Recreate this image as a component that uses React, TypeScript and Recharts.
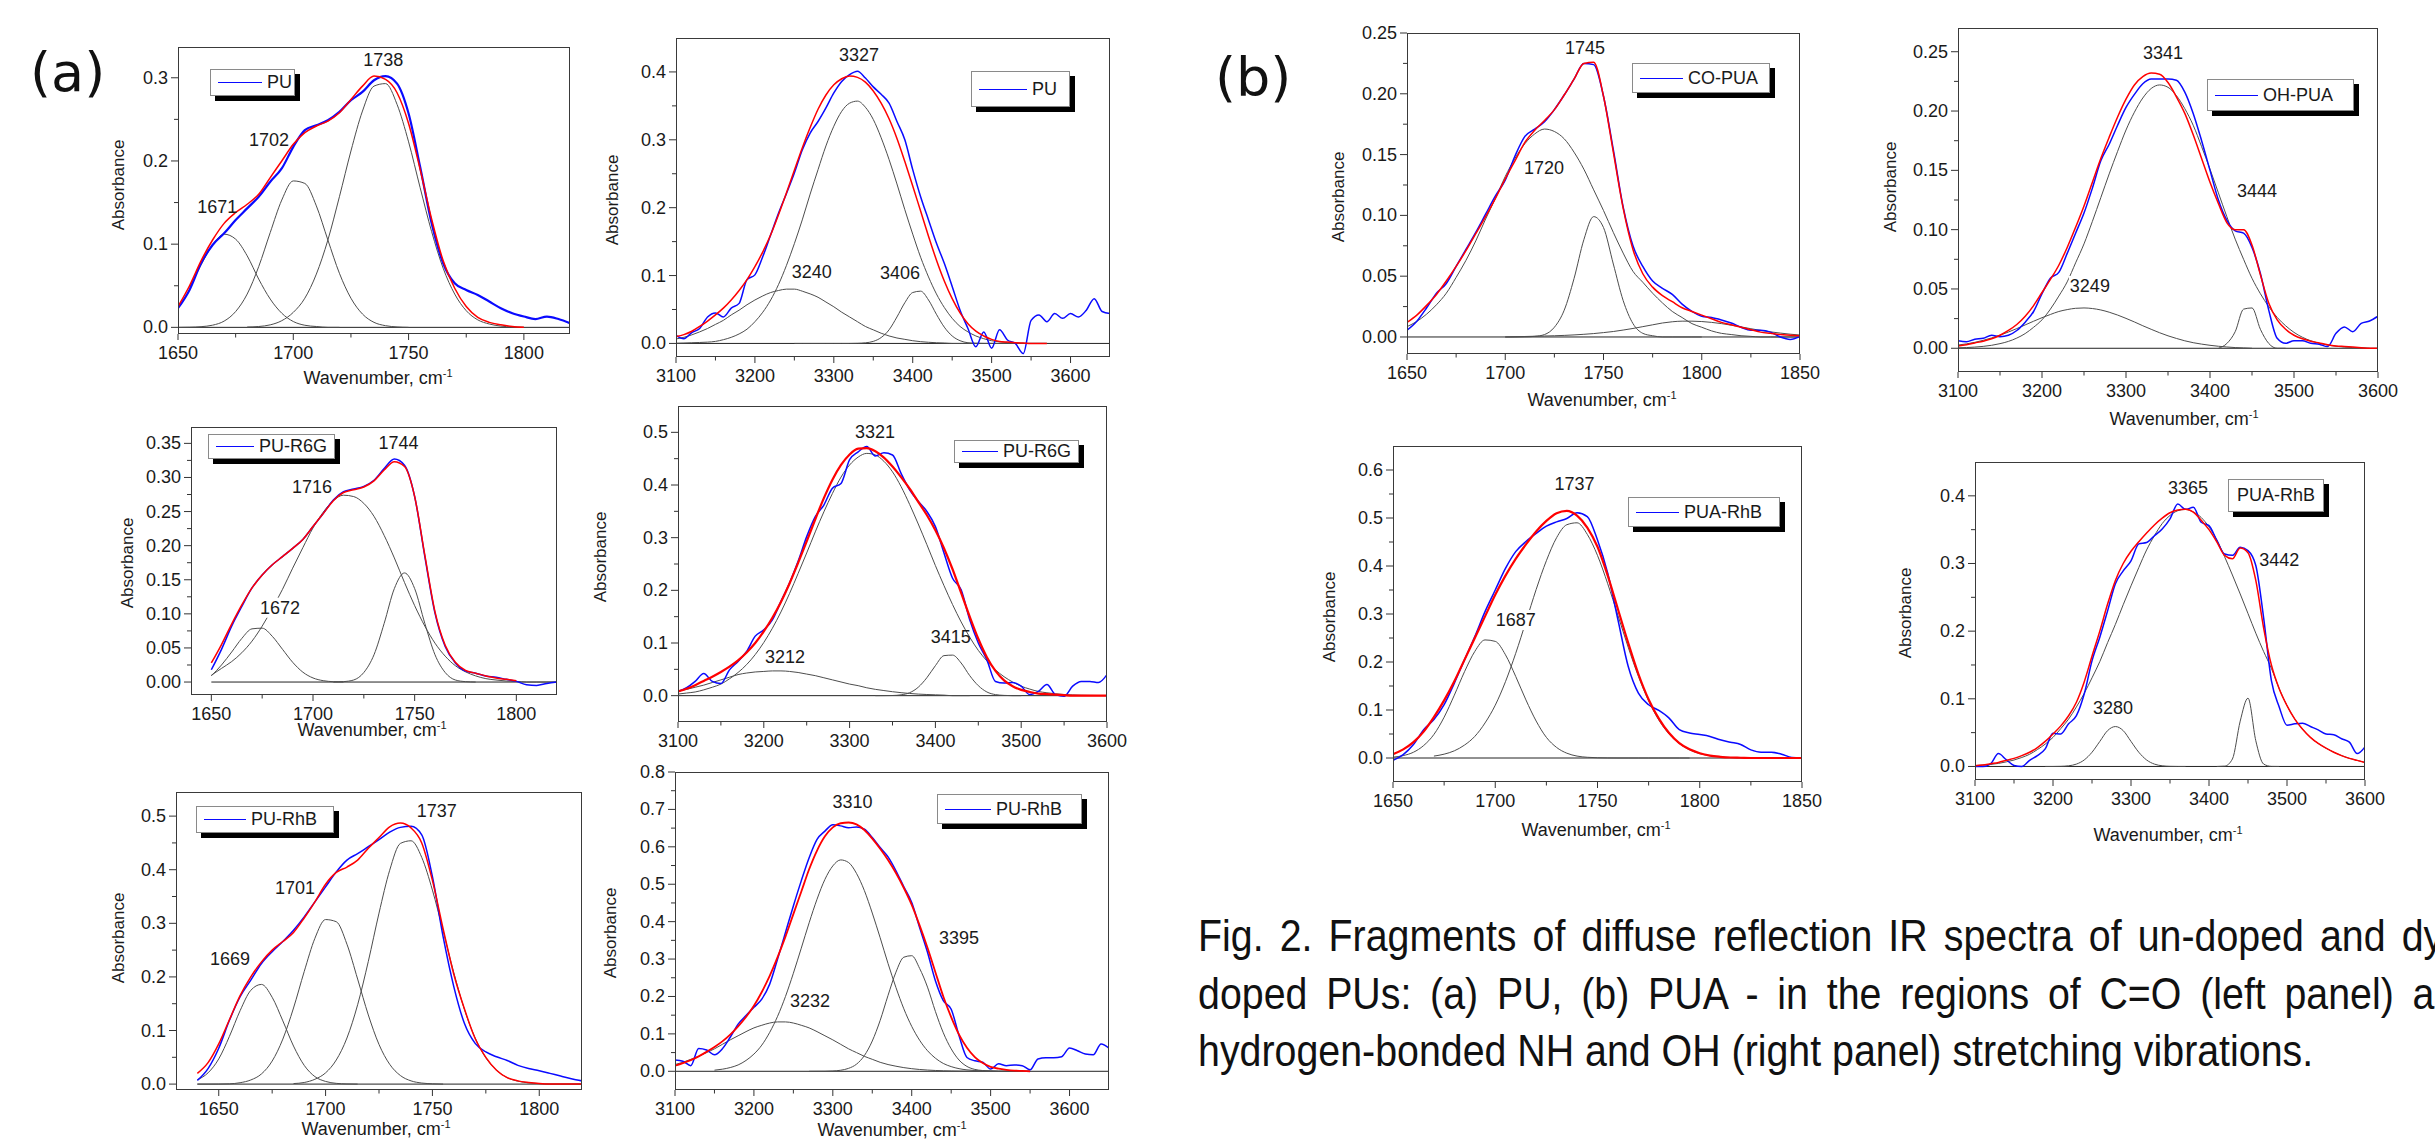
import React from "react";
import { LineChart, Line, XAxis, YAxis, ReferenceLine, ReferenceDot } from "recharts";

const _ = null;

// wavenumber grids, cm-1
const coX1 = [1650, 1655, 1660, 1665, 1670, 1675, 1680, 1685, 1690, 1695, 1700, 1705, 1710, 1715, 1720, 1725, 1730, 1735, 1740, 1745, 1750, 1755, 1760, 1765, 1770, 1775, 1780, 1785, 1790, 1795, 1800, 1805, 1810, 1815, 1820];
const coX2 = [1640, 1645, 1650, 1655, 1660, 1665, 1670, 1675, 1680, 1685, 1690, 1695, 1700, 1705, 1710, 1715, 1720, 1725, 1730, 1735, 1740, 1745, 1750, 1755, 1760, 1765, 1770, 1775, 1780, 1785, 1790, 1795, 1800, 1805, 1810, 1815, 1820];
const coX3 = [1650, 1655, 1660, 1665, 1670, 1675, 1680, 1685, 1690, 1695, 1700, 1705, 1710, 1715, 1720, 1725, 1730, 1735, 1740, 1745, 1750, 1755, 1760, 1765, 1770, 1775, 1780, 1785, 1790, 1795, 1800, 1805, 1810, 1815, 1820, 1825, 1830, 1835, 1840, 1845, 1850];
const nhX1 = [3100, 3110, 3120, 3130, 3140, 3150, 3160, 3170, 3180, 3190, 3200, 3210, 3220, 3230, 3240, 3250, 3260, 3270, 3280, 3290, 3300, 3310, 3320, 3330, 3340, 3350, 3360, 3370, 3380, 3390, 3400, 3410, 3420, 3430, 3440, 3450, 3460, 3470, 3480, 3490, 3500, 3510, 3520, 3530, 3540, 3550, 3560, 3570, 3580, 3590, 3600, 3610, 3620, 3630, 3640, 3650];
const nhX2 = [3100, 3110, 3120, 3130, 3140, 3150, 3160, 3170, 3180, 3190, 3200, 3210, 3220, 3230, 3240, 3250, 3260, 3270, 3280, 3290, 3300, 3310, 3320, 3330, 3340, 3350, 3360, 3370, 3380, 3390, 3400, 3410, 3420, 3430, 3440, 3450, 3460, 3470, 3480, 3490, 3500, 3510, 3520, 3530, 3540, 3550, 3560, 3570, 3580, 3590, 3600];

// tick labels
const coTicks = [1650, 1700, 1750, 1800];
const coMinor = [1675, 1725, 1775];
const coTicksWide = [1650, 1700, 1750, 1800, 1850];
const coMinorWide = [1675, 1725, 1775, 1825];
const nhTicks = [3100, 3200, 3300, 3400, 3500, 3600];
const nhMinor = [3150, 3250, 3350, 3450, 3550];
const yT03 = [0, 0.1, 0.2, 0.3];
const yM03 = [0.05, 0.15, 0.25];
const yT04 = [0, 0.1, 0.2, 0.3, 0.4];
const yM04 = [0.05, 0.15, 0.25, 0.35];
const yT05 = [0, 0.1, 0.2, 0.3, 0.4, 0.5];
const yM05 = [0.05, 0.15, 0.25, 0.35, 0.45];
const yT06 = [0, 0.1, 0.2, 0.3, 0.4, 0.5, 0.6];
const yM06 = [0.05, 0.15, 0.25, 0.35, 0.45, 0.55];
const yT08 = [0, 0.1, 0.2, 0.3, 0.4, 0.5, 0.6, 0.7, 0.8];
const yM08 = [0.05, 0.15, 0.25, 0.35, 0.45, 0.55, 0.65, 0.75];
const yT035 = [0, 0.05, 0.1, 0.15, 0.2, 0.25, 0.3, 0.35];
const yM035 = [0.025, 0.075, 0.125, 0.175, 0.225, 0.275, 0.325];
const yT025 = [0, 0.05, 0.1, 0.15, 0.2, 0.25];
const yM025 = [0.025, 0.075, 0.125, 0.175, 0.225];

// (a) PU, C=O
const puCoExp = [0.023, 0.045, 0.077, 0.099, 0.113, 0.129, 0.143, 0.157, 0.175, 0.191, 0.217, 0.237, 0.243, 0.249, 0.259, 0.273, 0.283, 0.297, 0.302, 0.293, 0.257, 0.193, 0.125, 0.077, 0.053, 0.045, 0.039, 0.031, 0.023, 0.017, 0.013, 0.010, 0.013, 0.010, 0.005];
const puCoFit = [0.025, 0.05, 0.08, 0.105, 0.125, 0.138, 0.148, 0.16, 0.18, 0.2, 0.22, 0.234, 0.242, 0.248, 0.258, 0.274, 0.29, 0.302, 0.298, 0.282, 0.245, 0.19, 0.13, 0.08, 0.047, 0.025, 0.012, 0.006, 0.003, 0.001, 0];
const puCoG1671 = [_, 0.048, 0.075, 0.099, 0.112, 0.106, 0.086, 0.058, 0.034, 0.017, 0.007, 0.0025, 0.001, 0, 0];
const puCoG1702 = [0, 0.0002, 0.0008, 0.0026, 0.0075, 0.019, 0.040, 0.073, 0.114, 0.153, 0.176, 0.173, 0.146, 0.105, 0.065, 0.035, 0.016, 0.006, 0.002, 0.0005, 0];
const puCoG1738 = [_, _, _, _, _, _, 0.0004, 0.001, 0.003, 0.008, 0.018, 0.035, 0.064, 0.105, 0.157, 0.212, 0.26, 0.29, 0.293, 0.268, 0.223, 0.168, 0.115, 0.071, 0.040, 0.020, 0.009, 0.004, 0.0015, 0.0005, 0];
const puCoPeaks = [{ x: 1739, y: 0.321, t: "1738" }, { x: 1689.5, y: 0.225, t: "1702" }, { x: 1667, y: 0.145, t: "1671" }];

// (a) PU, NH
const puNhExp = [0.012, 0.007, 0.016, 0.022, 0.039, 0.045, 0.039, 0.052, 0.059, 0.094, 0.101, 0.128, 0.160, 0.192, 0.221, 0.251, 0.285, 0.310, 0.327, 0.347, 0.369, 0.386, 0.396, 0.401, 0.391, 0.378, 0.367, 0.354, 0.327, 0.300, 0.256, 0.216, 0.182, 0.148, 0.118, 0.084, 0.049, 0.022, -0.005, 0.017, -0.007, 0.020, 0.005, 0.0, -0.015, 0.034, 0.042, 0.032, 0.044, 0.037, 0.044, 0.039, 0.049, 0.066, 0.047, 0.044];
const puNhFit = [0.01, 0.013, 0.018, 0.025, 0.033, 0.042, 0.052, 0.064, 0.078, 0.094, 0.113, 0.135, 0.16, 0.19, 0.222, 0.255, 0.288, 0.318, 0.345, 0.366, 0.381, 0.39, 0.394, 0.392, 0.385, 0.372, 0.354, 0.331, 0.302, 0.268, 0.232, 0.195, 0.158, 0.123, 0.092, 0.066, 0.045, 0.029, 0.018, 0.011, 0.006, 0.003, 0.002, 0.001, 0.0005, 0, 0, 0];
const puNhG3240 = [0.0066, 0.009, 0.0126, 0.017, 0.022, 0.028, 0.034, 0.042, 0.049, 0.057, 0.064, 0.070, 0.075, 0.078, 0.080, 0.080, 0.077, 0.073, 0.068, 0.061, 0.054, 0.046, 0.039, 0.032, 0.025, 0.020, 0.015, 0.011, 0.008, 0.006, 0.004, 0.0026, 0.0017, 0.001, 0.0006, 0, 0, 0, 0, 0, 0, 0, 0, 0, 0, 0, 0, 0];
const puNhG3327 = [0.0003, 0.0006, 0.001, 0.0014, 0.0019, 0.003, 0.0055, 0.009, 0.014, 0.021, 0.032, 0.046, 0.064, 0.087, 0.115, 0.147, 0.182, 0.220, 0.256, 0.291, 0.320, 0.342, 0.354, 0.357, 0.348, 0.330, 0.303, 0.271, 0.235, 0.197, 0.161, 0.127, 0.098, 0.073, 0.053, 0.037, 0.025, 0.017, 0.011, 0.007, 0.004, 0.0024, 0.0013, 0.0007, 0, 0, 0, 0];
const puNhG3406 = [_, _, _, _, _, _, _, _, _, _, _, _, _, _, _, 0, 0, 0, 0, 0, 0, 0, 0, 0.0002, 0.0009, 0.003, 0.0087, 0.020, 0.039, 0.060, 0.075, 0.077, 0.064, 0.043, 0.024, 0.011, 0.004, 0.001, 0.0003, 0, 0, 0, 0, 0, 0, 0, 0, 0];
const puNhPeaks = [{ x: 3332, y: 0.425, t: "3327" }, { x: 3272, y: 0.105, t: "3240" }, { x: 3384, y: 0.104, t: "3406" }];

// (a) PU-R6G, C=O
const r6gCoExp = [0.018, 0.048, 0.082, 0.111, 0.138, 0.157, 0.172, 0.184, 0.196, 0.209, 0.228, 0.247, 0.267, 0.279, 0.283, 0.287, 0.296, 0.313, 0.327, 0.318, 0.272, 0.184, 0.101, 0.052, 0.028, 0.016, 0.013, 0.009, 0.007, 0.004, 0.001, -0.004, -0.005, -0.002, 0.0];
const r6gCoFit = [0.028, 0.055, 0.085, 0.113, 0.138, 0.157, 0.172, 0.184, 0.196, 0.209, 0.228, 0.247, 0.266, 0.278, 0.282, 0.286, 0.295, 0.311, 0.323, 0.316, 0.272, 0.186, 0.103, 0.054, 0.029, 0.017, 0.013, 0.009, 0.006, 0.004, 0.002];
const r6gCoG1672 = [0.009, 0.025, 0.044, 0.064, 0.078, 0.079, 0.067, 0.048, 0.029, 0.0145, 0.006, 0.002, 0.0005, 0];
const r6gCoG1716 = [0.01, 0.020, 0.030, 0.043, 0.060, 0.082, 0.108, 0.136, 0.167, 0.197, 0.226, 0.249, 0.266, 0.274, 0.272, 0.262, 0.243, 0.215, 0.182, 0.146, 0.112, 0.082, 0.057, 0.038, 0.024, 0.015, 0.009, 0.005, 0.003, 0.0015, 0.001, 0, 0, 0, 0];
const r6gCoG1744 = [_, _, _, _, _, _, _, _, _, _, _, _, 0, 0.0006, 0.003, 0.014, 0.040, 0.086, 0.137, 0.160, 0.137, 0.086, 0.040, 0.014, 0.003, 0.0006, 0];
const r6gCoPeaks = [{ x: 1742, y: 0.351, t: "1744" }, { x: 1699.5, y: 0.286, t: "1716" }, { x: 1683.8, y: 0.109, t: "1672", mask: true }];

// (a) PU-R6G, NH
const r6gNhExp = [0.008, 0.015, 0.027, 0.042, 0.027, 0.023, 0.049, 0.065, 0.084, 0.113, 0.125, 0.144, 0.179, 0.214, 0.255, 0.302, 0.340, 0.362, 0.394, 0.403, 0.448, 0.463, 0.473, 0.455, 0.461, 0.457, 0.422, 0.391, 0.369, 0.350, 0.321, 0.271, 0.223, 0.201, 0.144, 0.100, 0.068, 0.027, 0.024, 0.025, 0.018, 0.002, 0.008, 0.021, 0.002, -0.001, 0.018, 0.027, 0.027, 0.025, 0.040];
const r6gNhFit = [0.008, 0.013, 0.02, 0.028, 0.036, 0.045, 0.055, 0.067, 0.082, 0.1, 0.122, 0.148, 0.178, 0.213, 0.252, 0.293, 0.335, 0.375, 0.41, 0.438, 0.458, 0.469, 0.47, 0.464, 0.452, 0.435, 0.415, 0.393, 0.368, 0.343, 0.314, 0.28, 0.24, 0.195, 0.15, 0.108, 0.073, 0.047, 0.029, 0.018, 0.011, 0.007, 0.004, 0.003, 0.002, 0.001, 0, 0, 0, 0, 0];
const r6gNhG3212 = [0.009, 0.012, 0.016, 0.020, 0.025, 0.030, 0.035, 0.040, 0.043, 0.045, 0.046, 0.047, 0.047, 0.046, 0.044, 0.041, 0.038, 0.034, 0.030, 0.026, 0.022, 0.019, 0.015, 0.012, 0.0097, 0.0075, 0.0057, 0.0042, 0.003, 0.0022, 0.0016, 0.001, 0, 0, 0];
const r6gNhG3321 = [0.003, 0.005, 0.007, 0.011, 0.016, 0.022, 0.032, 0.044, 0.059, 0.078, 0.101, 0.128, 0.159, 0.194, 0.232, 0.271, 0.311, 0.349, 0.384, 0.415, 0.438, 0.453, 0.460, 0.457, 0.445, 0.425, 0.397, 0.363, 0.326, 0.287, 0.247, 0.209, 0.173, 0.140, 0.111, 0.086, 0.066, 0.049, 0.036, 0.026, 0.018, 0.0125, 0.008, 0.0055, 0.0036, 0.0022, 0.0014, 0.0008, 0.0005, 0.0003, 0.0002];
const r6gNhG3415 = [_, _, _, _, _, _, _, _, _, _, _, _, _, _, _, _, _, _, _, _, _, _, _, 0, 0.0001, 0.0003, 0.0016, 0.0056, 0.016, 0.034, 0.057, 0.076, 0.077, 0.062, 0.038, 0.019, 0.007, 0.002, 0.0005, 0, 0];
const r6gNhPeaks = [{ x: 3329.6, y: 0.501, t: "3321" }, { x: 3224.7, y: 0.073, t: "3212" }, { x: 3418, y: 0.111, t: "3415" }];

// (a) PU-RhB, C=O
const rhbCoExp = [0.007, 0.029, 0.067, 0.119, 0.163, 0.194, 0.225, 0.247, 0.266, 0.287, 0.312, 0.340, 0.368, 0.396, 0.418, 0.430, 0.443, 0.456, 0.470, 0.479, 0.481, 0.465, 0.387, 0.275, 0.182, 0.113, 0.076, 0.060, 0.051, 0.044, 0.035, 0.029, 0.025, 0.020, 0.015, 0.010, 0.006];
const rhbCoFit = [0.02, 0.04, 0.075, 0.12, 0.165, 0.2, 0.228, 0.25, 0.266, 0.283, 0.31, 0.34, 0.373, 0.395, 0.405, 0.418, 0.44, 0.46, 0.48, 0.487, 0.478, 0.45, 0.38, 0.29, 0.205, 0.14, 0.085, 0.05, 0.026, 0.012, 0.006, 0.003, 0.001, 0, 0, 0, 0];
const rhbCoG1669 = [0.008, 0.021, 0.047, 0.089, 0.137, 0.175, 0.186, 0.162, 0.118, 0.071, 0.035, 0.014, 0.005, 0.0014, 0.0003, 0];
const rhbCoG1701 = [0, 0, 0.0001, 0.0005, 0.0026, 0.0077, 0.019, 0.043, 0.084, 0.142, 0.210, 0.272, 0.307, 0.303, 0.261, 0.196, 0.129, 0.074, 0.037, 0.016, 0.006, 0.002, 0.0006, 0];
const rhbCoG1737 = [_, _, _, _, _, _, _, _, _, 0.001, 0.003, 0.009, 0.021, 0.045, 0.086, 0.148, 0.229, 0.319, 0.399, 0.449, 0.454, 0.423, 0.362, 0.286, 0.208, 0.139, 0.086, 0.049, 0.026, 0.012, 0.0055, 0.0023, 0.001, 0, 0, 0, 0];
const rhbCoPeaks = [{ x: 1752, y: 0.51, t: "1737" }, { x: 1685.7, y: 0.366, t: "1701" }, { x: 1655.3, y: 0.233, t: "1669" }];

// (a) PU-RhB, NH
const rhbNhExp = [0.030, 0.027, 0.015, 0.061, 0.057, 0.044, 0.060, 0.091, 0.126, 0.149, 0.171, 0.193, 0.233, 0.300, 0.371, 0.442, 0.509, 0.571, 0.620, 0.642, 0.659, 0.656, 0.651, 0.653, 0.647, 0.625, 0.598, 0.573, 0.536, 0.493, 0.451, 0.384, 0.318, 0.242, 0.189, 0.166, 0.095, 0.037, 0.028, 0.024, 0.006, 0.020, 0.015, 0.017, 0.015, 0.004, 0.033, 0.036, 0.036, 0.039, 0.062, 0.055, 0.046, 0.044, 0.073, 0.062];
const rhbNhFit = [0.015, 0.022, 0.03, 0.04, 0.052, 0.065, 0.08, 0.098, 0.12, 0.145, 0.175, 0.212, 0.255, 0.305, 0.36, 0.42, 0.48, 0.54, 0.59, 0.628, 0.652, 0.663, 0.665, 0.66, 0.645, 0.622, 0.595, 0.565, 0.53, 0.49, 0.445, 0.39, 0.33, 0.265, 0.2, 0.145, 0.098, 0.063, 0.038, 0.022, 0.012, 0.007, 0.004, 0.002, 0.001, 0];
const rhbNhG3232 = [0.018, 0.024, 0.032, 0.040, 0.050, 0.060, 0.072, 0.084, 0.095, 0.106, 0.116, 0.123, 0.129, 0.132, 0.132, 0.129, 0.123, 0.116, 0.106, 0.095, 0.084, 0.072, 0.060, 0.050, 0.040, 0.032, 0.024, 0.018, 0.0136, 0.0098, 0.007, 0.0048, 0.0033, 0.0022, 0.0014, 0.0009, 0.0005, 0.0003, 0.0002, 0.0001, 0, 0, 0, 0, 0, 0];
const rhbNhG3310 = [_, _, _, _, _, 0.003, 0.0056, 0.010, 0.017, 0.029, 0.046, 0.070, 0.104, 0.147, 0.200, 0.262, 0.329, 0.397, 0.460, 0.513, 0.549, 0.565, 0.558, 0.529, 0.483, 0.423, 0.357, 0.288, 0.224, 0.167, 0.120, 0.083, 0.055, 0.035, 0.021, 0.0125, 0.007, 0.0038, 0.002, 0.001, 0.0005, 0, 0, 0, 0, 0];
const rhbNhG3395 = [_, _, _, _, _, _, _, _, _, _, _, _, _, _, _, _, _, 0, 0.0001, 0.0002, 0.0009, 0.0028, 0.0079, 0.019, 0.042, 0.081, 0.136, 0.203, 0.265, 0.305, 0.309, 0.275, 0.225, 0.16, 0.103, 0.06, 0.03, 0.013, 0.005, 0.002, 0.001, 0, 0, 0, 0, 0];
const rhbNhPeaks = [{ x: 3325, y: 0.72, t: "3310" }, { x: 3460, y: 0.356, t: "3395" }, { x: 3271, y: 0.188, t: "3232" }];

// (b) CO-PUA, C=O
const coPuaExp = [0.0055, 0.013, 0.024, 0.036, 0.044, 0.058, 0.072, 0.086, 0.101, 0.116, 0.129, 0.149, 0.165, 0.171, 0.177, 0.187, 0.199, 0.212, 0.225, 0.224, 0.198, 0.154, 0.107, 0.075, 0.058, 0.046, 0.040, 0.035, 0.027, 0.021, 0.017, 0.016, 0.014, 0.0115, 0.008, 0.0055, 0.0055, 0.004, 0.0, -0.002, 0.0005];
const coPuaFit = [0.012, 0.018, 0.026, 0.035, 0.046, 0.058, 0.071, 0.085, 0.099, 0.114, 0.13, 0.145, 0.16, 0.17, 0.178, 0.187, 0.199, 0.212, 0.225, 0.226, 0.198, 0.152, 0.106, 0.072, 0.052, 0.041, 0.034, 0.029, 0.024, 0.021, 0.018, 0.015, 0.012, 0.01, 0.008, 0.006, 0.004, 0.003, 0.002, 0.0015, 0.001];
const coPuaG1720 = [0.0085, 0.0128, 0.0188, 0.0265, 0.036, 0.049, 0.063, 0.079, 0.097, 0.114, 0.132, 0.147, 0.159, 0.167, 0.171, 0.169, 0.163, 0.152, 0.138, 0.121, 0.104, 0.086, 0.069, 0.054, 0.045, 0.036, 0.028, 0.021, 0.016, 0.011, 0.008, 0.005, 0.003, 0.002, 0.001, 0.0005, 0, 0, 0, 0, 0];
const coPuaG1745 = [_, _, _, _, _, _, _, _, _, _, 0, 0, 0.0001, 0.0005, 0.002, 0.008, 0.022, 0.048, 0.080, 0.099, 0.090, 0.060, 0.030, 0.011, 0.003, 0.001, 0, 0, 0, 0, 0];
const coPuaG1790 = [_, _, _, _, _, _, _, _, _, _, 0, 0.0002, 0.0004, 0.0006, 0.0008, 0.001, 0.0013, 0.0017, 0.0022, 0.0028, 0.0036, 0.0045, 0.0057, 0.007, 0.0085, 0.01, 0.0115, 0.0125, 0.013, 0.013, 0.0127, 0.012, 0.011, 0.0097, 0.0083, 0.0068, 0.0054, 0.0042, 0.0032, 0.0023, 0.0016];
const coPuaPeaks = [{ x: 1740.6, y: 0.238, t: "1745" }, { x: 1719.7, y: 0.139, t: "1720" }];

// (b) OH-PUA, NH
const ohPuaExp = [0.0064, 0.0056, 0.0076, 0.0084, 0.011, 0.0098, 0.011, 0.015, 0.022, 0.031, 0.046, 0.059, 0.064, 0.080, 0.097, 0.114, 0.135, 0.158, 0.172, 0.188, 0.203, 0.214, 0.223, 0.227, 0.227, 0.227, 0.226, 0.216, 0.198, 0.175, 0.150, 0.125, 0.108, 0.099, 0.097, 0.085, 0.063, 0.032, 0.0084, 0.0042, 0.0064, 0.0064, 0.0042, 0.0034, 0.0014, 0.0126, 0.018, 0.014, 0.021, 0.023, 0.027];
const ohPuaFit = [0.002, 0.003, 0.0045, 0.006, 0.008, 0.011, 0.015, 0.02, 0.027, 0.036, 0.047, 0.058, 0.07, 0.085, 0.102, 0.12, 0.14, 0.16, 0.178, 0.195, 0.21, 0.222, 0.229, 0.232, 0.231, 0.224, 0.212, 0.198, 0.18, 0.16, 0.14, 0.122, 0.106, 0.1, 0.1, 0.087, 0.062, 0.038, 0.024, 0.016, 0.011, 0.008, 0.006, 0.0045, 0.003, 0.002, 0.0015, 0.001, 0.0005, 0, 0];
const ohPuaG3249 = [0.0027, 0.0037, 0.005, 0.0067, 0.0087, 0.011, 0.0137, 0.0166, 0.0197, 0.0228, 0.0258, 0.0285, 0.031, 0.0326, 0.0337, 0.034, 0.0335, 0.0323, 0.0304, 0.028, 0.0252, 0.0222, 0.019, 0.016, 0.0131, 0.0105, 0.0083, 0.0063, 0.0047, 0.0035, 0.0025, 0.0017, 0.0011, 0.0006, 0.0003, 0];
const ohPuaG3341 = [0.0004, 0.0006, 0.001, 0.0016, 0.0025, 0.0039, 0.0058, 0.0086, 0.0124, 0.0177, 0.024, 0.033, 0.044, 0.056, 0.072, 0.088, 0.107, 0.127, 0.147, 0.166, 0.184, 0.199, 0.211, 0.219, 0.222, 0.220, 0.213, 0.202, 0.188, 0.170, 0.151, 0.131, 0.111, 0.092, 0.075, 0.059, 0.046, 0.035, 0.026, 0.019, 0.0134, 0.0093, 0.0063, 0.0042, 0.0027, 0.0017, 0.001, 0.0006, 0.0004, 0];
const ohPuaG3444 = [_, _, _, _, _, _, _, _, _, _, _, _, _, _, _, _, _, _, _, _, _, _, _, _, _, _, _, _, _, _, _, 0, 0.004, 0.014, 0.033, 0.034, 0.016, 0.004, 0, 0];
const ohPuaPeaks = [{ x: 3344, y: 0.249, t: "3341" }, { x: 3456, y: 0.133, t: "3444" }, { x: 3257, y: 0.0525, t: "3249", mask: true }];

// (b) PUA-RhB, C=O
const puaRhbCoExp = [-0.005, 0.007, 0.028, 0.059, 0.080, 0.111, 0.156, 0.205, 0.253, 0.305, 0.350, 0.395, 0.430, 0.451, 0.468, 0.483, 0.492, 0.499, 0.511, 0.503, 0.454, 0.385, 0.288, 0.191, 0.135, 0.111, 0.099, 0.083, 0.059, 0.052, 0.049, 0.045, 0.038, 0.033, 0.028, 0.017, 0.012, 0.012, 0.008, 0.001, 0.0];
const puaRhbCoFit = [0.008, 0.018, 0.033, 0.055, 0.085, 0.12, 0.16, 0.205, 0.25, 0.295, 0.34, 0.38, 0.415, 0.445, 0.472, 0.494, 0.51, 0.515, 0.505, 0.48, 0.44, 0.38, 0.31, 0.24, 0.175, 0.122, 0.082, 0.052, 0.031, 0.018, 0.01, 0.005, 0.0025, 0.001, 0.0005, 0, 0, 0, 0, 0, 0];
const puaRhbCoG1687 = [0.0018, 0.005, 0.012, 0.026, 0.049, 0.085, 0.131, 0.180, 0.222, 0.246, 0.243, 0.215, 0.170, 0.121, 0.077, 0.043, 0.022, 0.010, 0.004, 0.0015, 0.0005, 0.0001, 0, 0, 0, 0, 0, 0, 0, 0];
const puaRhbCoG1737 = [_, _, _, _, 0.004, 0.008, 0.015, 0.027, 0.045, 0.073, 0.110, 0.159, 0.218, 0.284, 0.351, 0.411, 0.459, 0.486, 0.49, 0.466, 0.422, 0.363, 0.297, 0.231, 0.170, 0.119, 0.079, 0.050, 0.030, 0.017, 0.009, 0.0048, 0.0023, 0.001, 0.0004, 0, 0, 0, 0, 0, 0];
const puaRhbCoPeaks = [{ x: 1738.8, y: 0.571, t: "1737" }, { x: 1710, y: 0.2875, t: "1687", mask: true }];

// (b) PUA-RhB, NH
const puaRhbNhExp = [0.0, 0.0, 0.004, 0.019, 0.010, 0.0015, 0.0, 0.009, 0.016, 0.026, 0.049, 0.048, 0.063, 0.075, 0.107, 0.156, 0.191, 0.230, 0.270, 0.289, 0.304, 0.329, 0.331, 0.341, 0.351, 0.366, 0.388, 0.380, 0.383, 0.361, 0.356, 0.334, 0.314, 0.312, 0.324, 0.319, 0.297, 0.220, 0.127, 0.088, 0.061, 0.063, 0.064, 0.059, 0.054, 0.048, 0.047, 0.041, 0.036, 0.019, 0.029];
const puaRhbNhFit = [0.001, 0.002, 0.004, 0.006, 0.009, 0.012, 0.016, 0.021, 0.028, 0.037, 0.048, 0.06, 0.075, 0.095, 0.125, 0.163, 0.2, 0.24, 0.275, 0.3, 0.318, 0.332, 0.345, 0.357, 0.367, 0.375, 0.379, 0.38, 0.376, 0.364, 0.35, 0.332, 0.312, 0.307, 0.323, 0.316, 0.275, 0.205, 0.15, 0.115, 0.09, 0.07, 0.055, 0.043, 0.034, 0.027, 0.021, 0.016, 0.012, 0.009, 0.006];
const puaRhbNhG3365 = [0.0014, 0.002, 0.003, 0.0045, 0.0068, 0.0095, 0.0133, 0.018, 0.025, 0.033, 0.043, 0.056, 0.070, 0.088, 0.108, 0.131, 0.155, 0.183, 0.210, 0.239, 0.267, 0.294, 0.320, 0.341, 0.359, 0.371, 0.378, 0.38, 0.376, 0.368, 0.354, 0.335, 0.31, 0.283, 0.255, 0.226, 0.197, 0.17, 0.145, 0.115, 0.09, 0.07, 0.055, 0.043, 0.034, 0.027, 0.021, 0.016, 0.012, 0.009, 0.006];
const puaRhbNhG3280 = [_, _, _, _, _, _, _, _, _, 0, 0, 0.0002, 0.001, 0.0035, 0.0096, 0.021, 0.037, 0.053, 0.059, 0.053, 0.037, 0.021, 0.0096, 0.0035, 0.001, 0.0002, 0, 0];
const puaRhbNhG3442 = [_, _, _, _, _, _, _, _, _, _, _, _, _, _, _, _, _, _, _, _, _, _, _, _, _, _, _, _, _, _, _, 0, 0.0005, 0.011, 0.067, 0.101, 0.038, 0.0036, 0.0001, 0];
const puaRhbNhPeaks = [{ x: 3373, y: 0.4116, t: "3365" }, { x: 3490, y: 0.305, t: "3442" }, { x: 3277, y: 0.086, t: "3280" }];

const FONT = '"Liberation Sans", Arial, sans-serif';
const AX = "#333";
const INK = "#1a1a1a";

type Peak = { x: number; y: number; t: string; mask?: boolean };

const makeXTick = (majors: number[]) => (props: any) => {
  const { x, y, payload } = props;
  const major = majors.includes(payload.value);
  return (
    <g>
      <line x1={x} x2={x} y1={y} y2={y + (major ? 6 : 3.5)} stroke={AX} strokeWidth={1} />
      {major && (
        <text x={x} y={y + 19} textAnchor="middle" dominantBaseline="central" fontSize={18} fill={INK} fontFamily={FONT}>
          {payload.value}
        </text>
      )}
    </g>
  );
};

const makeYTick = (majors: number[], dec: number) => (props: any) => {
  const { x, y, payload } = props;
  const major = majors.includes(payload.value);
  return (
    <g>
      <line x1={x - (major ? 7 : 4)} x2={x} y1={y} y2={y} stroke={AX} strokeWidth={1} />
      {major && (
        <text x={x - 10} y={y} textAnchor="end" dominantBaseline="central" fontSize={18} fill={INK} fontFamily={FONT}>
          {Number(payload.value).toFixed(dec)}
        </text>
      )}
    </g>
  );
};

const Panel = (p: any) => {
  const YW = 80, XH = 40, MT = 30, MR = 32;
  const rows = p.xs.map((x: number, i: number) => {
    const r: any = { x, exp: p.exp[i] ?? null, fit: p.fit[i] ?? null };
    p.comps.forEach((c: (number | null)[], k: number) => {
      r["g" + k] = c[i] ?? null;
    });
    return r;
  });
  const base = p.base || p.xDom;
  const lg = p.legend;
  return (
    <>
      <div style={{ position: "absolute", left: p.px - YW, top: p.py - MT }}>
        <LineChart width={YW + p.pw + MR} height={MT + p.ph + XH} data={rows} margin={{ top: MT, right: MR, left: 0, bottom: 0 }}>
          <XAxis
            type="number"
            dataKey="x"
            domain={p.xDom}
            allowDataOverflow
            ticks={[...p.xMajor, ...p.xMinor]}
            interval={0}
            tick={makeXTick(p.xMajor)}
            tickLine={false}
            axisLine={false}
            tickSize={0}
            tickMargin={0}
            height={XH}
          />
          <YAxis
            type="number"
            domain={p.yDom}
            allowDataOverflow
            ticks={[...p.yMajor, ...p.yMinor]}
            interval={0}
            tick={makeYTick(p.yMajor, p.dec)}
            tickLine={false}
            axisLine={false}
            tickSize={0}
            tickMargin={0}
            width={YW}
          />
          <ReferenceLine segment={[{ x: base[0], y: 0 }, { x: base[1], y: 0 }]} stroke="#222" strokeWidth={1} />
          {p.comps.map((_c: any, k: number) => (
            <Line key={"g" + k} dataKey={"g" + k} type="monotone" stroke="#4d4d4d" strokeWidth={1} dot={false} activeDot={false} isAnimationActive={false} />
          ))}
          <Line dataKey="exp" type="monotone" stroke="#0a0aff" strokeWidth={p.expW || 1.5} dot={false} activeDot={false} isAnimationActive={false} />
          <Line dataKey="fit" type="monotone" stroke="#ff0000" strokeWidth={p.fitW || 1.5} dot={false} activeDot={false} isAnimationActive={false} />
          {p.peaks.map((pk: Peak, i: number) => (
            <ReferenceDot
              key={"pk" + i}
              x={pk.x}
              y={pk.y}
              r={1}
              shape={(sp: any) => (
                <g>
                  {pk.mask && <rect x={sp.cx - 21} y={sp.cy - 10} width={42} height={20} fill="#fff" />}
                  <text x={sp.cx} y={sp.cy} textAnchor="middle" dominantBaseline="central" fontSize={18} fill={INK} fontFamily={FONT}>
                    {pk.t}
                  </text>
                </g>
              )}
            />
          ))}
        </LineChart>
      </div>
      <div style={{ position: "absolute", left: p.px, top: p.py, width: p.pw, height: p.ph, border: "1.2px solid #3a3a3a", boxSizing: "border-box", pointerEvents: "none" }} />
      <div
        style={{
          position: "absolute",
          left: lg.l,
          top: lg.t,
          width: lg.w,
          height: lg.h,
          background: "#fff",
          border: "1px solid #8a8a8a",
          boxShadow: "5px 5px 0 #000",
          boxSizing: "border-box",
          display: "flex",
          alignItems: "center",
          justifyContent: lg.lineW ? "flex-start" : "center",
          fontFamily: FONT,
          fontSize: 18,
          color: INK,
        }}
      >
        {lg.lineW > 0 && <div style={{ width: lg.lineW, borderTop: "1.5px solid #0a0aff", marginLeft: 7, marginRight: 5 }} />}
        <span>{p.name}</span>
      </div>
      <div
        style={{
          position: "absolute",
          left: p.yLab[0],
          top: p.yLab[1],
          transform: "translate(-50%, -50%) rotate(-90deg)",
          whiteSpace: "nowrap",
          fontFamily: FONT,
          fontSize: 17,
          color: INK,
        }}
      >
        Absorbance
      </div>
      {p.xLab && (
        <div
          style={{
            position: "absolute",
            left: p.xLab[0],
            top: p.xLab[1],
            transform: "translate(-50%, -50%)",
            whiteSpace: "nowrap",
            fontFamily: FONT,
            fontSize: 18,
            color: INK,
          }}
        >
          Wavenumber, cm<sup style={{ fontSize: 11 }}>-1</sup>
        </div>
      )}
    </>
  );
};

const PANELS = [
  {
    px: 178, py: 47, pw: 392, ph: 287, xs: coX1, xDom: [1650, 1820], yDom: [-0.008, 0.337],
    exp: puCoExp, fit: puCoFit, comps: [puCoG1671, puCoG1702, puCoG1738], peaks: puCoPeaks,
    xMajor: coTicks, xMinor: coMinor, yMajor: yT03, yMinor: yM03, dec: 1, name: "PU", expW: 2.2,
    legend: { l: 210, t: 69, w: 85, h: 27, lineW: 44 }, yLab: [119, 185], xLab: [378, 378],
  },
  {
    px: 676, py: 38, pw: 434, ph: 319, xs: nhX1, xDom: [3100, 3650], yDom: [-0.02, 0.45],
    exp: puNhExp, fit: puNhFit, comps: [puNhG3240, puNhG3327, puNhG3406], peaks: puNhPeaks,
    xMajor: nhTicks, xMinor: nhMinor, yMajor: yT04, yMinor: yM04, dec: 1, name: "PU",
    legend: { l: 971, t: 71, w: 99, h: 36, lineW: 48 }, yLab: [613, 200],
  },
  {
    px: 191, py: 427, pw: 366, ph: 268, xs: coX1, xDom: [1640, 1820], yDom: [-0.019, 0.374], base: [1650, 1820],
    exp: r6gCoExp, fit: r6gCoFit, comps: [r6gCoG1672, r6gCoG1716, r6gCoG1744], peaks: r6gCoPeaks,
    xMajor: coTicks, xMinor: coMinor, yMajor: yT035, yMinor: yM035, dec: 2, name: "PU-R6G",
    legend: { l: 208, t: 434, w: 127, h: 25, lineW: 38 }, yLab: [128, 563], xLab: [372, 730],
  },
  {
    px: 678, py: 406, pw: 429, ph: 316, xs: nhX2, xDom: [3100, 3600], yDom: [-0.05, 0.55],
    exp: r6gNhExp, fit: r6gNhFit, comps: [r6gNhG3212, r6gNhG3321, r6gNhG3415], peaks: r6gNhPeaks,
    xMajor: nhTicks, xMinor: nhMinor, yMajor: yT05, yMinor: yM05, dec: 1, name: "PU-R6G", fitW: 2.2,
    legend: { l: 954, t: 440, w: 125, h: 23, lineW: 36 }, yLab: [601, 557],
  },
  {
    px: 176, py: 792, pw: 406, ph: 298, xs: coX2, xDom: [1630, 1820], yDom: [-0.011, 0.545], base: [1640, 1820],
    exp: rhbCoExp, fit: rhbCoFit, comps: [rhbCoG1669, rhbCoG1701, rhbCoG1737], peaks: rhbCoPeaks,
    xMajor: coTicks, xMinor: coMinor, yMajor: yT05, yMinor: yM05, dec: 1, name: "PU-RhB",
    legend: { l: 196, t: 806, w: 138, h: 27, lineW: 42 }, yLab: [119, 938], xLab: [376, 1129],
  },
  {
    px: 675, py: 772, pw: 434, ph: 318, xs: nhX1, xDom: [3100, 3650], yDom: [-0.05, 0.8],
    exp: rhbNhExp, fit: rhbNhFit, comps: [rhbNhG3232, rhbNhG3310, rhbNhG3395], peaks: rhbNhPeaks,
    xMajor: nhTicks, xMinor: nhMinor, yMajor: yT08, yMinor: yM08, dec: 1, name: "PU-RhB", fitW: 1.8,
    legend: { l: 937, t: 794, w: 145, h: 30, lineW: 46 }, yLab: [611, 933], xLab: [892, 1130],
  },
  {
    px: 1407, py: 33, pw: 393, ph: 321, xs: coX3, xDom: [1650, 1850], yDom: [-0.014, 0.25],
    exp: coPuaExp, fit: coPuaFit, comps: [coPuaG1720, coPuaG1745, coPuaG1790], peaks: coPuaPeaks,
    xMajor: coTicksWide, xMinor: coMinorWide, yMajor: yT025, yMinor: yM025, dec: 2, name: "CO-PUA",
    legend: { l: 1632, t: 63, w: 138, h: 30, lineW: 43 }, yLab: [1339, 197], xLab: [1602, 400],
  },
  {
    px: 1958, py: 28, pw: 420, ph: 344, xs: nhX2, xDom: [3100, 3600], yDom: [-0.02, 0.27],
    exp: ohPuaExp, fit: ohPuaFit, comps: [ohPuaG3249, ohPuaG3341, ohPuaG3444], peaks: ohPuaPeaks,
    xMajor: nhTicks, xMinor: nhMinor, yMajor: yT025, yMinor: yM025, dec: 2, name: "OH-PUA",
    legend: { l: 2207, t: 79, w: 147, h: 32, lineW: 43 }, yLab: [1891, 187], xLab: [2184, 419],
  },
  {
    px: 1393, py: 446, pw: 409, ph: 336, xs: coX3, xDom: [1650, 1850], yDom: [-0.05, 0.65],
    exp: puaRhbCoExp, fit: puaRhbCoFit, comps: [puaRhbCoG1687, puaRhbCoG1737], peaks: puaRhbCoPeaks,
    xMajor: coTicksWide, xMinor: coMinorWide, yMajor: yT06, yMinor: yM06, dec: 1, name: "PUA-RhB", fitW: 2.2,
    legend: { l: 1628, t: 497, w: 152, h: 30, lineW: 43 }, yLab: [1330, 617], xLab: [1596, 830],
  },
  {
    px: 1975, py: 462, pw: 390, ph: 318, xs: nhX2, xDom: [3100, 3600], yDom: [-0.02, 0.45],
    exp: puaRhbNhExp, fit: puaRhbNhFit, comps: [puaRhbNhG3280, puaRhbNhG3365, puaRhbNhG3442], peaks: puaRhbNhPeaks,
    xMajor: nhTicks, xMinor: nhMinor, yMajor: yT04, yMinor: yM04, dec: 1, name: "PUA-RhB",
    legend: { l: 2228, t: 479, w: 96, h: 33, lineW: 0 }, yLab: [1906, 613], xLab: [2168, 835],
  },
];

const CAPTION = [
  "Fig. 2. Fragments of diffuse reflection IR spectra of un-doped and dye-",
  "doped PUs: (a) PU, (b) PUA - in the regions of C=O (left panel) and",
  "hydrogen-bonded NH and OH (right panel) stretching vibrations.",
];

export default function App() {
  return (
    <div style={{ position: "absolute", left: 0, top: 0, width: 2435, height: 1140, overflow: "hidden", background: "#fff" }}>
      {PANELS.map((p, i) => (
        <Panel key={i} {...p} />
      ))}
      <div style={{ position: "absolute", left: 30, top: 46, fontFamily: '"DejaVu Sans", sans-serif', fontSize: 54, lineHeight: "54px", color: "#111" }}>(a)</div>
      <div style={{ position: "absolute", left: 1215, top: 51, fontFamily: '"DejaVu Sans", sans-serif', fontSize: 54, lineHeight: "54px", color: "#111" }}>(b)</div>
      <div style={{ position: "absolute", left: 1198, top: 907, width: 2435 - 1198, height: 200, overflow: "hidden" }}>
        <div style={{ width: 1432, transform: "scaleX(0.894)", transformOrigin: "left top", fontFamily: FONT, fontSize: 44, lineHeight: "57.5px", color: "#111" }}>
          {CAPTION.map((line, i) => (
            <div key={i} style={{ textAlign: i < 2 ? "justify" : "left", textAlignLast: i < 2 ? "justify" : "left", whiteSpace: "normal" }}>
              {line}
            </div>
          ))}
        </div>
      </div>
    </div>
  );
}
